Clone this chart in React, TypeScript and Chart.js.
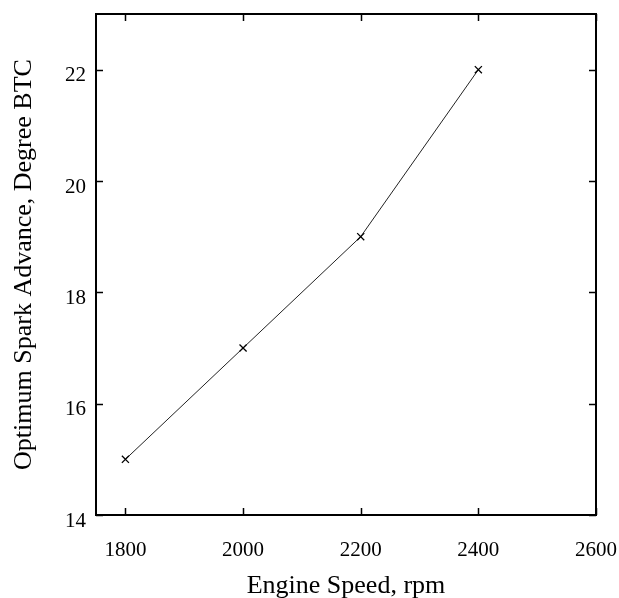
import React, { useEffect, useRef } from "react";
import { Chart, registerables } from "chart.js";

Chart.register(...registerables);

const engineSpeed = [1800, 2000, 2200, 2400];
const sparkAdvance = [15, 17, 19, 22];
const xTicks = [1800, 2000, 2200, 2400, 2600];
const yTicks = [14, 16, 18, 20, 22];
const xTitle = "Engine Speed, rpm";
const yTitle = "Optimum Spark Advance, Degree BTC";

const FONT = "'Liberation Serif', 'Times New Roman', serif";

const zeroPad = (s: any) => {
  s.paddingLeft = 0;
  s.paddingRight = 0;
  s.paddingTop = 0;
  s.paddingBottom = 0;
};

const frame = {
  id: "frame",
  afterDatasetsDraw(chart: any) {
    const { ctx, chartArea: a, scales } = chart;
    ctx.save();
    ctx.strokeStyle = "#000";
    ctx.lineWidth = 1.5;
    const tl = 7;
    scales.x.ticks.forEach((t: any) => {
      const px = Math.round(scales.x.getPixelForValue(t.value)) + 0.5;
      ctx.beginPath();
      ctx.moveTo(px, a.bottom);
      ctx.lineTo(px, a.bottom - tl);
      ctx.moveTo(px, a.top);
      ctx.lineTo(px, a.top + tl);
      ctx.stroke();
    });
    scales.y.ticks.forEach((t: any) => {
      const py = Math.round(scales.y.getPixelForValue(t.value)) + 0.5;
      ctx.beginPath();
      ctx.moveTo(a.left, py);
      ctx.lineTo(a.left + tl, py);
      ctx.moveTo(a.right, py);
      ctx.lineTo(a.right - tl, py);
      ctx.stroke();
    });
    ctx.lineWidth = 2;
    ctx.strokeRect(a.left, a.top, a.right - a.left, a.bottom - a.top);
    ctx.restore();
  },
};

export default function App() {
  const ref = useRef<HTMLCanvasElement>(null);
  useEffect(() => {
    if (!ref.current) return;
    const chart = new Chart(ref.current, {
      type: "line",
      data: {
        datasets: [
          {
            data: engineSpeed.map((x, i) => ({ x, y: sparkAdvance[i] })),
            borderColor: "#222",
            borderWidth: 1,
            pointStyle: "crossRot",
            pointRadius: 5,
            pointBorderColor: "#000",
            pointBorderWidth: 1.3,
            tension: 0,
            fill: false,
          },
        ],
      },
      options: {
        animation: false,
        responsive: false,
        layout: { padding: { top: 14, right: 23, left: 0, bottom: 0 } },
        plugins: { legend: { display: false }, tooltip: { enabled: false } },
        scales: {
          x: {
            type: "linear",
            min: 1750,
            max: 2600,
            afterBuildTicks: (s: any) => {
              s.ticks = xTicks.map((v) => ({ value: v }));
            },
            afterFit: (s: any) => {
              s.height = 83;
              zeroPad(s);
            },
            grid: { display: false, drawTicks: false },
            border: { display: false },
            ticks: {
              color: "#000",
              font: { family: FONT, size: 21 },
              padding: 23,
              maxRotation: 0,
              autoSkip: false,
              callback: (v: any) => String(v),
            },
            title: {
              display: true,
              text: xTitle,
              color: "#000",
              font: { family: FONT, size: 26, lineHeight: 0.9 },
              padding: { top: 0, bottom: 0 },
            },
          },
          y: {
            type: "linear",
            min: 14,
            max: 23,
            afterBuildTicks: (s: any) => {
              s.ticks = yTicks.map((v) => ({ value: v }));
            },
            afterFit: (s: any) => {
              s.width = 96;
              zeroPad(s);
            },
            grid: { display: false, drawTicks: false },
            border: { display: false },
            ticks: {
              color: "#000",
              font: { family: FONT, size: 21 },
              padding: 10,
              labelOffset: 6,
              autoSkip: false,
              callback: (v: any) => String(v),
            },
            title: {
              display: true,
              text: yTitle,
              color: "#000",
              font: { family: FONT, size: 26, lineHeight: 1.2 },
              padding: { top: 9, bottom: 0 },
            },
          },
        },
      },
      plugins: [frame],
    });
    return () => chart.destroy();
  }, []);
  return (
    <div style={{ position: "absolute", left: 0, top: 0, width: 619, height: 598, background: "#fff" }}>
      <canvas ref={ref} width={619} height={598} style={{ display: "block" }} />
    </div>
  );
}
